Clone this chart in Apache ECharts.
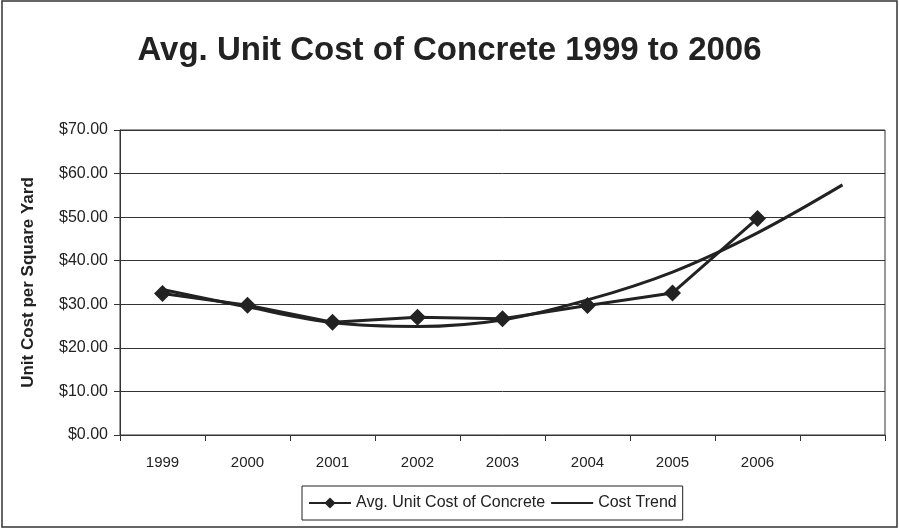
<!DOCTYPE html>
<html><head><meta charset="utf-8">
<script src="https://cdn.jsdelivr.net/npm/echarts@6/dist/echarts.min.js"></script>
<style>html,body{margin:0;padding:0;background:#fff}#c{width:899px;height:532px}</style>
</head><body><div id="c"></div>
<script>
var categories = ['1999','2000','2001','2002','2003','2004','2005','2006',''];
var avgCost = [32.5, 29.8, 25.9, 27.0, 26.7, 29.7, 32.6, 49.7, null];
var costTrend = [33.4, 29.4, 25.8, 24.9, 26.4, 31.0, 37.4, 46.4, 57.4];
var yTicks = [0, 10, 20, 30, 40, 50, 60, 70];
var FONT = '"Liberation Sans", Arial, sans-serif';
var chart = echarts.init(document.getElementById('c'));
chart.setOption({
  backgroundColor: '#fff',
  animation: false,
  title: {
    text: 'Avg. Unit Cost of Concrete 1999 to 2006',
    left: 'center', top: 29,
    textStyle: { fontFamily: FONT, fontSize: 33, fontWeight: 'bold', color: '#222' }
  },
  graphic: [{
    type: 'rect', shape: { x: 2, y: 1, width: 895, height: 526 },
    style: { fill: 'none', stroke: '#333', lineWidth: 1.5 }, silent: true
  }],
  legend: {
    bottom: 12, left: 302,
    itemWidth: 42, itemHeight: 14, itemGap: 6,
    padding: [9, 6, 9, 6],
    borderColor: '#222', borderWidth: 1,
    textStyle: { fontFamily: FONT, fontSize: 16, color: '#222' },
    data: [{ name: 'Avg. Unit Cost of Concrete' }, { name: 'Cost Trend', icon: 'path://M0,6 L42,6 L42,8 L0,8 Z' }]
  },
  grid: { left: 120, right: 14, top: 130, bottom: 97, show: true, borderColor: '#333', borderWidth: 1 },
  xAxis: {
    type: 'category', data: categories, boundaryGap: true,
    axisLine: { lineStyle: { color: '#333', width: 1 } },
    axisTick: { show: true, inside: false, length: 6, alignWithLabel: false, lineStyle: { color: '#333' } },
    axisLabel: { fontFamily: FONT, fontSize: 15, color: '#222', margin: 20 }
  },
  yAxis: {
    type: 'value', min: yTicks[0], max: yTicks[yTicks.length - 1], interval: 10,
    name: 'Unit Cost per Square Yard', nameLocation: 'middle', nameGap: 83,
    nameTextStyle: { fontFamily: FONT, fontSize: 17, fontWeight: 'bold', color: '#222' },
    axisLine: { show: true, lineStyle: { color: '#333', width: 1 } },
    axisTick: { show: true, length: 6, lineStyle: { color: '#333' } },
    splitLine: { show: true, lineStyle: { color: '#333', width: 1 } },
    axisLabel: { fontFamily: FONT, fontSize: 16, color: '#222', margin: 12,
      formatter: function (v) { return '$' + v.toFixed(2); } }
  },
  series: [{
    name: 'Avg. Unit Cost of Concrete', type: 'line', data: avgCost,
    symbol: 'diamond', symbolSize: 17, showAllSymbol: true,
    lineStyle: { color: '#222', width: 3 },
    itemStyle: { color: '#222' }, z: 3
  }, {
    name: 'Cost Trend', type: 'line', data: costTrend, smooth: 0.35,
    symbol: 'none', lineStyle: { color: '#222', width: 3 },
    itemStyle: { color: '#222' }, z: 2
  }]
});
</script></body></html>
